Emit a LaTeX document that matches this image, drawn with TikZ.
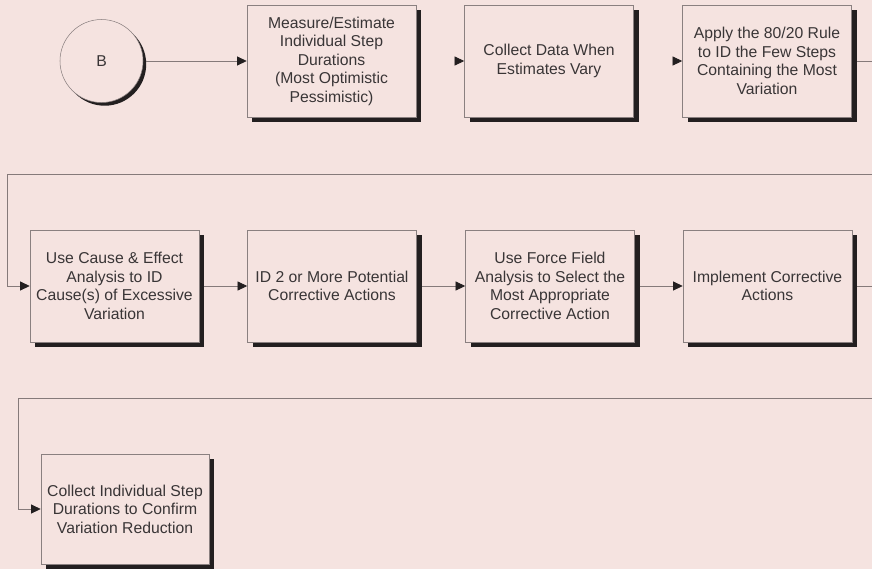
\documentclass[tikz,border=0pt]{standalone}
\usepackage{fontspec}
\setmainfont{Liberation Sans}
\usetikzlibrary{arrows.meta,shadows}

\definecolor{paper}{HTML}{F5E3E0}
\definecolor{edge}{HTML}{8A8080}
\definecolor{wire}{HTML}{857A7A}
\definecolor{ink}{HTML}{231F20}

\begin{document}
\begin{tikzpicture}[x=0.75pt,y=-0.75pt,
  txt/.style={font=\fontsize{11.8}{13.9}\selectfont, text=ink!90},
  stepbox/.style={txt, draw=edge, line width=0.5pt, fill=paper,
    minimum width=126.75pt, minimum height=84pt, inner sep=0pt, align=center,
    drop shadow={shadow xshift=3.75pt, shadow yshift=-3.75pt, fill=ink, opacity=1}},
  startcircle/.style={txt, circle, draw=edge, line width=0.4pt, fill=paper,
    minimum size=62.25pt, inner sep=0pt,
    drop shadow={shadow xshift=2.4pt, shadow yshift=-2.4pt, fill=ink, opacity=1}},
  conn/.style={draw=wire, line width=0.6pt,
    -{Triangle[length=7.2pt,width=6.8pt,color=ink]}},
  tiponly/.style={conn, draw=paper}]

\useasboundingbox (0,0) rectangle (872,569);
\fill[paper] (0,0) rectangle (872,569);

% first row
\node[startcircle] (B) at (101.5,61) {B};
\node[stepbox] (m1) at (331.5,61) {Measure/Estimate\\Individual Step\\Durations\\(Most Optimistic\\Pessimistic)};
\node[stepbox] (m2) at (549,61) {Collect Data When\\Estimates Vary};
\node[stepbox] (m3) at (767,61) {Apply the 80/20 Rule\\to ID the Few Steps\\Containing the Most\\Variation};

% second row
\node[stepbox] (m4) at (114.5,286) {Use Cause \& Effect\\Analysis to ID\\Cause(s) of Excessive\\Variation};
\node[stepbox] (m5) at (332,286) {ID 2 or More Potential\\Corrective Actions};
\node[stepbox] (m6) at (550,286) {Use Force Field\\Analysis to Select the\\Most Appropriate\\Corrective Action};
\node[stepbox] (m7) at (767.5,286) {Implement Corrective\\Actions};

% third row
\node[stepbox, minimum width=126pt, minimum height=82.5pt] (m8) at (125,509) {Collect Individual Step\\Durations to Confirm\\Variation Reduction};

% return routes along the right and left margins
\coordinate (farR) at (892,0);
\coordinate (bendA) at (7,174);
\coordinate (bendB) at (18,398);

% connectors
\draw[conn] ([xshift=2.4pt]B.east) -- (m1.west);
\draw[tiponly] ([xshift=4pt]m1.east) -- (m2.west);
\draw[tiponly] ([xshift=4pt]m2.east) -- (m3.west);
\draw[conn] ([xshift=3.75pt]m3.east) -- (m3.east -| farR) |- (bendA) |- (m4.west);
\draw[conn] ([xshift=3.75pt]m4.east) -- (m5.west);
\draw[conn] ([xshift=3.75pt]m5.east) -- (m6.west);
\draw[conn] ([xshift=3.75pt]m6.east) -- (m7.west);
\draw[conn] ([xshift=3.75pt]m7.east) -- (m7.east -| farR) |- (bendB) |- (m8.west);
\end{tikzpicture}
\end{document}
